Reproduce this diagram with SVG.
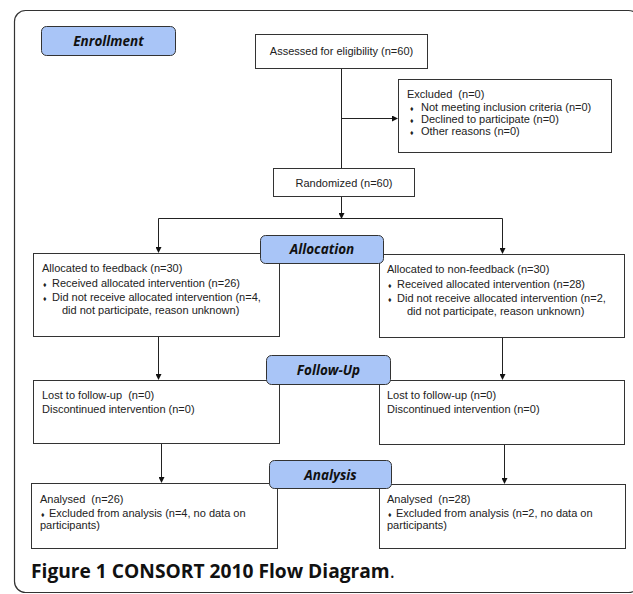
<svg xmlns="http://www.w3.org/2000/svg" width="633" height="594" viewBox="0 0 633 594">
<style>
.box{fill:#fff;stroke:#333;stroke-width:1}
.lab{fill:#a9c5f7;stroke:#333;stroke-width:1}
.t{font-family:"Liberation Sans",Arial,sans-serif;font-size:11px;fill:#222;white-space:pre}
.b{font-size:7px}
.h{font-family:"Open Sans","DejaVu Sans",sans-serif;font-size:13.5px;font-weight:bold;font-style:italic;fill:#111;text-anchor:middle}
.c{fill:none;stroke:#222;stroke-width:1}
</style>
<defs>
<marker id="ar" markerWidth="6" markerHeight="6" refX="5" refY="3" orient="auto" markerUnits="userSpaceOnUse">
<path d="M0,0 L6,3 L0,6 Z" fill="#111"/>
</marker>
</defs>
<rect x="14.5" y="10.5" width="625" height="582" rx="11" fill="#fff" stroke="#333" stroke-width="1.2"/>
<g id="connectors">
<line class="c" x1="341.5" y1="69" x2="341.5" y2="168"/>
<line class="c" x1="341.5" y1="118.5" x2="397" y2="118.5" marker-end="url(#ar)"/>
<line class="c" x1="341.5" y1="197" x2="341.5" y2="218" marker-end="url(#ar)"/>
<polyline class="c" points="158.5,252 158.5,218.5 502.5,218.5 502.5,253" />
<line class="c" x1="158.5" y1="230" x2="158.5" y2="252" marker-end="url(#ar)"/>
<line class="c" x1="502.5" y1="230" x2="502.5" y2="253" marker-end="url(#ar)"/>
<line class="c" x1="158.5" y1="337" x2="158.5" y2="379" marker-end="url(#ar)"/>
<line class="c" x1="502.5" y1="338" x2="502.5" y2="379" marker-end="url(#ar)"/>
<line class="c" x1="161.5" y1="444" x2="161.5" y2="482" marker-end="url(#ar)"/>
<line class="c" x1="504.5" y1="445" x2="504.5" y2="483" marker-end="url(#ar)"/>
</g>
<g id="enrollment">
<rect class="lab" x="41.5" y="26.5" width="134" height="29" rx="5"/>
<text class="h" x="108.5" y="46">Enrollment</text>
</g>
<g id="assessed">
<rect class="box" x="255.5" y="34.5" width="172" height="34"/>
<text class="t" x="341.5" y="55" text-anchor="middle">Assessed for eligibility (n=60)</text>
</g>
<g id="excluded">
<rect class="box" x="398.5" y="79.5" width="213" height="73"/>
<text class="t" x="407" y="98">Excluded  (n=0)</text>
<text class="t" x="410" y="111"><tspan class="b">♦</tspan><tspan x="421">Not meeting inclusion criteria (n=0)</tspan></text>
<text class="t" x="410" y="123"><tspan class="b">♦</tspan><tspan x="421">Declined to participate (n=0)</tspan></text>
<text class="t" x="410" y="135"><tspan class="b">♦</tspan><tspan x="421">Other reasons (n=0)</tspan></text>
</g>
<g id="randomized">
<rect class="box" x="273.5" y="168.5" width="141" height="28"/>
<text class="t" x="344" y="187" text-anchor="middle">Randomized (n=60)</text>
</g>
<g id="alloc-left">
<rect class="box" x="33.5" y="253.5" width="246" height="83"/>
<text class="t" x="42" y="272">Allocated to feedback (n=30)</text>
<text class="t" x="43" y="287"><tspan class="b">♦</tspan><tspan x="52">Received allocated intervention (n=26)</tspan></text>
<text class="t" x="43" y="301"><tspan class="b">♦</tspan><tspan x="52">Did not receive allocated intervention (n=4,</tspan></text>
<text class="t" x="62" y="314">did not participate, reason unknown)</text>
</g>
<g id="alloc-right">
<rect class="box" x="379.5" y="254.5" width="245" height="83"/>
<text class="t" x="387" y="273">Allocated to non-feedback (n=30)</text>
<text class="t" x="388" y="288"><tspan class="b">♦</tspan><tspan x="397">Received allocated intervention (n=28)</tspan></text>
<text class="t" x="388" y="302"><tspan class="b">♦</tspan><tspan x="397">Did not receive allocated intervention (n=2,</tspan></text>
<text class="t" x="407" y="315">did not participate, reason unknown)</text>
</g>
<g id="allocation">
<rect class="lab" x="260.5" y="235.5" width="123" height="28" rx="5"/>
<text class="h" x="322" y="254">Allocation</text>
</g>
<g id="follow-left">
<rect class="box" x="33.5" y="380.5" width="246" height="63"/>
<text class="t" x="42" y="399">Lost to follow-up  (n=0)</text>
<text class="t" x="42" y="413">Discontinued intervention (n=0)</text>
</g>
<g id="follow-right">
<rect class="box" x="379.5" y="380.5" width="245" height="64"/>
<text class="t" x="387" y="399">Lost to follow-up (n=0)</text>
<text class="t" x="387" y="413">Discontinued intervention (n=0)</text>
</g>
<g id="followup">
<rect class="lab" x="266.5" y="355.5" width="124" height="29" rx="5"/>
<text class="h" x="328.5" y="375">Follow-Up</text>
</g>
<g id="analysis-left">
<rect class="box" x="31.5" y="483.5" width="246" height="65"/>
<text class="t" x="40" y="503">Analysed  (n=26)</text>
<text class="t" x="41" y="517"><tspan class="b">♦</tspan><tspan x="49">Excluded from analysis (n=4, no data on</tspan></text>
<text class="t" x="40" y="529">participants)</text>
</g>
<g id="analysis-right">
<rect class="box" x="379.5" y="484.5" width="246" height="64"/>
<text class="t" x="387" y="503">Analysed  (n=28)</text>
<text class="t" x="388" y="517"><tspan class="b">♦</tspan><tspan x="396">Excluded from analysis (n=2, no data on</tspan></text>
<text class="t" x="387" y="529">participants)</text>
</g>
<g id="analysis">
<rect class="lab" x="269.5" y="460.5" width="122" height="28" rx="5"/>
<text class="h" x="330.5" y="480">Analysis</text>
</g>
<text x="31" y="578" font-family="'Open Sans','DejaVu Sans',sans-serif" font-size="19.2" font-weight="bold" fill="#111">Figure 1 CONSORT 2010 Flow Diagram<tspan font-weight="normal">.</tspan></text>
</svg>
